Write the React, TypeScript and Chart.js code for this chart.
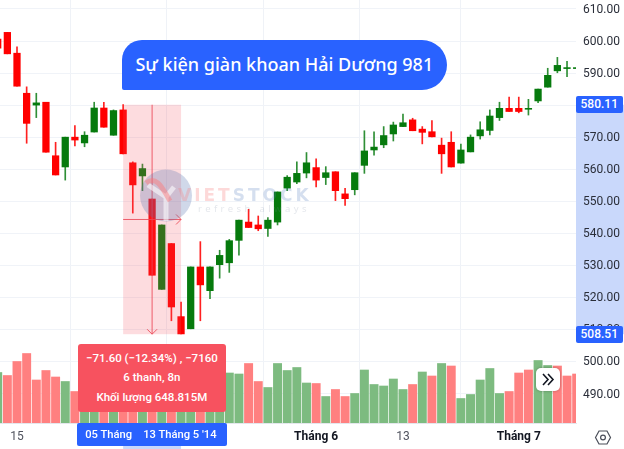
import React, { useEffect, useRef } from "react";
import { Chart, registerables } from "chart.js";

Chart.register(...registerables);

const highs = [600.6,602.7,598.2,585.7,583.7,580.9,568.4,570.0,573.6,571.7,580.9,580.9,578.5,580.2,562.3,561.6,550.7,542.6,536.8,518.5,529.5,537.4,529.5,534.7,538.1,544.1,547.5,545.4,544.9,552.9,558.0,562.3,565.2,563.2,560.8,559.2,554.0,558.9,572.0,571.7,573.3,574.7,577.2,575.9,573.3,575.2,569.7,571.7,567.8,570.7,574.8,578.5,580.9,582.5,582.5,581.8,585.0,591.5,594.9,593.7,591.7];
const lows = [597.8,596.0,585.9,568.1,576.1,565.3,558.2,556.6,567.3,567.0,571.6,573.1,570.6,564.8,546.3,553.3,526.9,522.5,512.7,508.6,510.2,512.7,519.6,526.0,527.8,533.2,541.8,540.8,539.0,542.6,553.3,555.5,557.3,554.5,555.2,550.2,548.7,552.0,558.7,564.4,566.7,568.8,573.3,572.0,567.9,570.1,558.7,560.7,561.9,565.4,569.4,570.7,575.2,578.0,577.6,576.9,580.8,585.6,590.1,588.9,591.4];
const opens = [600.6,602.7,596.2,583.7,580.0,580.9,564.2,560.7,570.0,568.2,571.6,579.1,570.6,578.5,562.0,557.9,550.7,522.5,536.8,514.0,510.2,529.5,522.1,530.2,530.8,537.8,543.5,542.6,541.5,543.5,554.1,556.0,558.8,560.5,557.4,559.2,552.3,553.6,561.2,566.0,567.6,571.0,573.3,575.4,572.5,571.7,567.5,568.4,561.9,565.4,570.4,572.1,576.1,579.0,579.0,578.7,581.3,585.6,590.7,591.4,591.4];
const closes = [597.8,596.0,585.9,574.3,580.7,565.3,558.2,570.0,569.1,570.6,579.1,573.1,578.3,564.8,555.1,560.2,526.9,542.6,517.0,508.6,529.5,523.9,529.5,533.1,537.7,544.1,541.8,541.4,544.1,552.9,557.5,558.7,562.0,556.6,558.9,553.3,550.8,558.9,565.7,566.9,570.5,573.8,574.5,572.0,571.5,570.1,564.8,560.7,566.0,570.0,572.3,576.6,579.0,578.0,578.0,579.0,585.0,589.3,592.4,591.7,591.7];
const volumes = [101,95,123,139,86,105,92,83,63,70,90,75,80,110,125,80,140,95,100,110,120,95,85,80,100,98,119,83,71,119,105,111,80,79,53,67,53,59,106,77,74,88,67,77,102,94,119,114,49,57,86,109,59,63,100,106,125,115,114,94,98];
const volumeDirections = "GRRRRRRGRGGRGRRGRGRGGRGGGGRRGGGGGRGRRGGGGGGRGRGRGGGGGRRRGGRRR";

const timeTickIndexes = [2, 13, 22, 33, 42, 54];
const timeTickLabels = ["15", "", "", "Tháng 6", "13", "Tháng 7"];
const boldTimeLabels = ["Tháng 6", "Tháng 7"];
const priceTicks = [490, 500, 510, 520, 530, 540, 550, 560, 570, 580, 590, 600, 610];

const rangeStartIndex = 13;
const rangeEndIndex = 19;
const rangeMidIndex = 16;
const rangeTopPrice = 580.11;
const rangeBottomPrice = 508.51;

const titleText = "Sự kiện giàn khoan Hải Dương 981";
const measureLines = ["−71.60 (−12.34%) , −7160", "6 thanh, 8n", "Khối lượng 648.815M"];
const dateFrom = "05 Tháng";
const dateTo = "13 Tháng 5 '14";

const RED = "#ff0000";
const GREEN = "#067a0d";
const VOL_RED = "#ff8080";
const VOL_GREEN = "#7dbb80";
const FONT = "'Noto Sans', sans-serif";
const NUM_FONT = "Roboto, sans-serif";

const candleColor = opens.map((o, i) => (closes[i] >= o ? GREEN : RED));
const wickColor = opens.map((o, i) => (closes[i] >= o ? "#2f8f36" : "#ff2020"));
const xs = opens.map((_, i) => i);

const zeroPadding = (s: any) => {
  s.paddingTop = 0;
  s.paddingBottom = 0;
  s.paddingLeft = 0;
  s.paddingRight = 0;
};

const overlayPlugin = {
  id: "rangeMeasure",
  beforeDraw(chart: any) {
    const { ctx, scales, chartArea } = chart;
    const yTop = scales.y.getPixelForValue(rangeTopPrice);
    const yBot = scales.y.getPixelForValue(rangeBottomPrice);
    const xA = scales.x.getPixelForValue(rangeStartIndex);
    const xB = scales.x.getPixelForValue(rangeEndIndex);
    ctx.save();
    ctx.fillStyle = "#c9d8fb";
    ctx.fillRect(chartArea.right, yTop, chart.width - chartArea.right, yBot - yTop);
    ctx.fillRect(xA, chart.height - 3, xB - xA, 3);
    ctx.restore();
  },
  afterDatasetsDraw(chart: any) {
    const { ctx, scales } = chart;
    const yTop = scales.y.getPixelForValue(rangeTopPrice);
    const yBot = scales.y.getPixelForValue(rangeBottomPrice);
    const xA = scales.x.getPixelForValue(rangeStartIndex);
    const xB = scales.x.getPixelForValue(rangeEndIndex);
    const xM = scales.x.getPixelForValue(rangeMidIndex);
    const yM = (yTop + yBot) / 2;
    ctx.save();
    ctx.fillStyle = "rgba(247,82,95,0.2)";
    ctx.fillRect(xA, yTop, xB - xA, yBot - yTop);
    ctx.strokeStyle = "rgba(235,70,85,0.85)";
    ctx.lineWidth = 1;
    ctx.beginPath();
    ctx.moveTo(xM, yTop);
    ctx.lineTo(xM, yBot);
    ctx.moveTo(xM - 5, yBot - 5);
    ctx.lineTo(xM, yBot);
    ctx.lineTo(xM + 5, yBot - 5);
    ctx.moveTo(xA, yM);
    ctx.lineTo(xB, yM);
    ctx.moveTo(xB - 5, yM - 5);
    ctx.lineTo(xB, yM);
    ctx.lineTo(xB - 5, yM + 5);
    ctx.stroke();
    ctx.restore();
  },
};

const abs = (left: number, top: number, width: number, height: number): React.CSSProperties => ({
  position: "absolute",
  left,
  top,
  width,
  height,
});

const priceBox = (top: number, height: number): React.CSSProperties => ({
  ...abs(575.5, top, 47.5, height),
  background: "#2962ff",
  color: "#fff",
  borderRadius: 2,
  font: `500 12px ${NUM_FONT}`,
  lineHeight: `${height}px`,
  textAlign: "center",
});

export default function App() {
  const ref = useRef<HTMLCanvasElement>(null);

  useEffect(() => {
    const chart = new Chart(ref.current as HTMLCanvasElement, {
      type: "bar",
      data: {
        datasets: [
          {
            label: "Thân nến",
            data: xs.map((x) => ({ x, y: [opens[x], closes[x]] })),
            backgroundColor: candleColor,
            barThickness: 6.6,
            yAxisID: "y",
            grouped: false,
          },
          {
            label: "Bấc nến",
            data: xs.map((x) => ({ x, y: [lows[x], highs[x]] })),
            backgroundColor: wickColor,
            barThickness: 1,
            yAxisID: "y",
            grouped: false,
          },
          {
            label: "Khối lượng",
            data: xs.map((x) => ({ x, y: volumes[x] })),
            backgroundColor: xs.map((x) => (volumeDirections[x] === "G" ? VOL_GREEN : VOL_RED)),
            barThickness: 8.3,
            yAxisID: "vol",
            grouped: false,
          },
        ],
      } as any,
      options: {
        animation: false,
        responsive: false,
        devicePixelRatio: 1,
        layout: { padding: 0, autoPadding: false },
        plugins: { legend: { display: false }, tooltip: { enabled: false }, title: { display: false } },
        scales: {
          x: {
            type: "linear",
            offset: false,
            min: 0.238,
            max: 59.93,
            afterFit(s: any) {
              s.height = 26;
              zeroPadding(s);
            },
            afterBuildTicks(s: any) {
              s.ticks = timeTickIndexes.map((value) => ({ value }));
            },
            grid: { color: "#eff2f7", drawTicks: false },
            border: { color: "#e4e7ed" },
            ticks: {
              autoSkip: false,
              maxRotation: 0,
              padding: 7,
              color: (c: any) => (boldTimeLabels.includes(timeTickLabels[c.index]) ? "#131722" : "#50535e"),
              font: (c: any) => ({
                family: NUM_FONT,
                size: 12,
                weight: boldTimeLabels.includes(timeTickLabels[c.index]) ? "bold" : "normal",
              }),
              callback: (v: any) => timeTickLabels[timeTickIndexes.indexOf(v)] ?? "",
            },
          },
          y: {
            type: "linear",
            position: "right",
            min: 480.8,
            max: 612.8,
            afterFit(s: any) {
              s.width = 48;
              zeroPadding(s);
            },
            afterBuildTicks(s: any) {
              s.ticks = priceTicks.map((value) => ({ value }));
            },
            grid: { color: "#f0f3f8", drawTicks: false },
            border: { display: false },
            ticks: {
              autoSkip: false,
              crossAlign: "near",
              padding: 7,
              labelOffset: 1,
              color: "#2a2e39",
              font: { family: NUM_FONT, size: 12 },
              callback: (v: any) => Number(v).toFixed(2),
            },
          },
          vol: { type: "linear", display: false, min: 0, max: 846 },
        },
      } as any,
      plugins: [overlayPlugin],
    });
    return () => chart.destroy();
  }, []);

  return (
    <div style={{ position: "absolute", left: 0, top: 0, width: 624, height: 449, overflow: "hidden", background: "#fff" }}>
      <canvas ref={ref} width={624} height={449} style={{ display: "block" }} />

      {/* watermark */}
      <svg style={{ ...abs(136, 165, 62, 62), pointerEvents: "none" }} viewBox="0 0 62 62">
        <circle cx="30" cy="30.5" r="26" fill="rgba(80,110,175,0.27)" />
        <path d="M12 20 L30 32 L38 22 M30 32 L30 56" stroke="rgba(255,255,255,0.55)" strokeWidth="5" fill="none" />
        <path d="M10 18 C20 10 26 22 34 36" stroke="rgba(255,120,120,0.45)" strokeWidth="5" fill="none" />
      </svg>
      <div style={{ ...abs(178, 185, 140, 20), font: `700 17px 'DejaVu Sans', sans-serif`, lineHeight: "20px", letterSpacing: 3, whiteSpace: "nowrap", pointerEvents: "none" }}>
        <span style={{ color: "rgba(250,130,130,0.3)" }}>VIET</span>
        <span style={{ color: "rgba(80,120,190,0.24)" }}>STOCK</span>
      </div>
      <div style={{ ...abs(198, 203, 120, 12), font: `400 9.5px ${FONT}`, lineHeight: "12px", letterSpacing: 3.4, color: "rgba(120,135,160,0.2)", whiteSpace: "nowrap", pointerEvents: "none" }}>
        refresh always
      </div>

      {/* title balloon */}
      <div
        style={{
          ...abs(121.7, 39.5, 325.3, 50.5),
          background: "#2962ff",
          color: "#fff",
          borderRadius: "20px 25px 25px 2px",
          font: `500 18px ${FONT}`,
          lineHeight: "48px",
          textAlign: "center",
          whiteSpace: "nowrap",
        }}
      >
        {titleText}
      </div>

      {/* measure label */}
      <div
        style={{
          ...abs(78, 344, 147.7, 67.7),
          background: "#f7525f",
          color: "#fff",
          borderRadius: 3,
          font: `500 11.5px ${NUM_FONT}`,
          textAlign: "center",
          paddingTop: 4.5,
          boxSizing: "border-box",
        }}
      >
        {measureLines.map((t) => (
          <div key={t} style={{ lineHeight: "19.5px", whiteSpace: "nowrap" }}>
            {t}
          </div>
        ))}
      </div>

      {/* date range label */}
      <div style={{ ...abs(76.7, 423, 150, 22.7), background: "#2962ff", color: "#fff", borderRadius: 2, font: `500 11.2px ${NUM_FONT}`, lineHeight: "23px" }}>
        <span style={{ position: "absolute", left: 8.5, whiteSpace: "nowrap" }}>{dateFrom}</span>
        <span style={{ position: "absolute", left: 66.5, whiteSpace: "nowrap" }}>{dateTo}</span>
      </div>

      {/* price labels */}
      <div style={priceBox(96.3, 17)}>{rangeTopPrice.toFixed(2)}</div>
      <div style={priceBox(326, 16.7)}>{rangeBottomPrice.toFixed(2)}</div>

      {/* scroll button */}
      <div style={{ ...abs(536, 367.7, 24, 23.3), background: "#fff", borderRadius: 5, boxShadow: "0 0 3px rgba(0,0,0,0.3)" }}>
        <svg width="24" height="23" viewBox="0 0 24 23">
          <path d="M7 6 L12 11.5 L7 17 M12 6 L17 11.5 L12 17" stroke="#131722" strokeWidth="1.6" fill="none" />
        </svg>
      </div>

      {/* settings icon */}
      <svg style={abs(594, 429, 18, 17)} viewBox="0 0 18 17">
        <path d="M1.5 8.5 L5 2 H13 L16.5 8.5 L13 15 H5 Z" stroke="#4a4e59" strokeWidth="1.2" fill="none" />
        <circle cx="9" cy="8.5" r="2.4" stroke="#4a4e59" strokeWidth="1.2" fill="none" />
      </svg>
    </div>
  );
}
